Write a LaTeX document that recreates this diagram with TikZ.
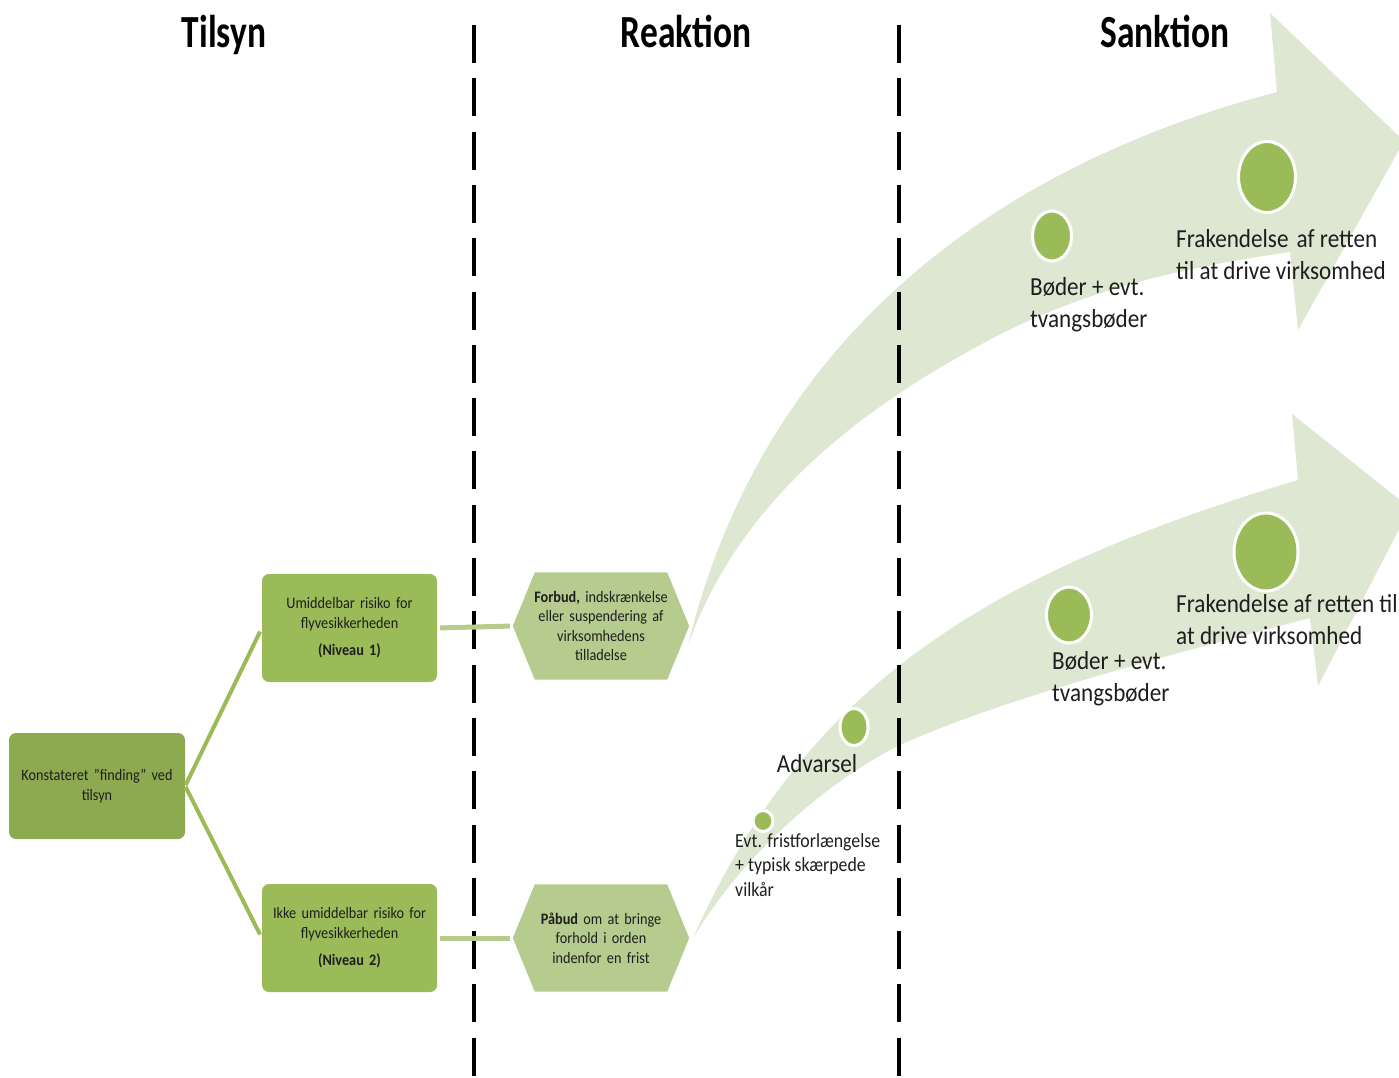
\documentclass[tikz,border=0pt]{standalone}
\usepackage{fontspec}
\setmainfont[FakeStretch=0.89]{Carlito}
\newfontfamily\titlefont[FakeStretch=0.77]{Carlito}
\usetikzlibrary{shapes.geometric,backgrounds}
\definecolor{boxgreen}{HTML}{9BBB59}
\definecolor{darkbox}{HTML}{8EAA50}
\definecolor{hexgreen}{HTML}{B6CB8E}
\definecolor{arrowgreen}{HTML}{DEE7D1}
\definecolor{txt}{HTML}{1E1E1E}
\begin{document}
\begin{tikzpicture}[x=1pt,y=-1pt,
  title/.style={font=\titlefont\fontsize{46}{52}\selectfont\bfseries, anchor=base, text=black, inner sep=0},
  gbox/.style={rectangle, rounded corners=7pt, fill=boxgreen, minimum width=175pt, minimum height=108pt,
     text width=165pt, align=center, font=\fontsize{16}{20}\selectfont, text=txt, inner sep=0},
  hexbox/.style={rectangle, minimum width=176pt, minimum height=107pt, text width=150pt, align=center,
     font=\fontsize{16}{19.5}\selectfont, text=txt, inner sep=0},
  lbl/.style={font=\fontsize{26}{32}\selectfont, text=txt, inner sep=0},
  small/.style={font=\fontsize{20}{24.5}\selectfont, text=txt, inner sep=0},
  dot/.style={ellipse, fill=boxgreen, draw=white, line width=3pt, inner sep=0},
  branch/.style={draw=boxgreen, line width=4pt},
  link/.style={draw=hexgreen, line width=5pt},
  divider/.style={line width=3.5pt, dash pattern=on 38pt off 15.3pt}
]
\useasboundingbox (0,0) rectangle (1399,1078);
\clip (0,0) rectangle (1399,1078);

% curved arrows (background)
\begin{scope}[on background layer]
\fill[arrowgreen] (688,645) .. controls (760,350) and (980,170) .. (1277,92)
   -- (1270,13) -- (1404,141) -- (1298,330) -- (1290,252)
   .. controls (1180,268) and (1080,290) .. (980,345)
   .. controls (860,410) and (740,500) .. (688,645) -- cycle;
\fill[arrowgreen] (693,938) .. controls (809,678) and (998,570) .. (1298,480)
   -- (1292,414) -- (1410,508) -- (1318,686) -- (1310,618)
   .. controls (1150,660) and (1000,700) .. (900,745)
   .. controls (820,785) and (740,860) .. (693,938) -- cycle;
\end{scope}

% dividers
\coordinate (d1t) at (474,25); \coordinate (d1b) at (474,1078);
\coordinate (d2t) at (899,25); \coordinate (d2b) at (899,1078);
\draw[divider] (d1t) -- (d1b);
\draw[divider] (d2t) -- (d2b);

% titles
\node[title] (tilsyn) at (224,48) {Tilsyn};
\node[title] (reaktion) at (686,48) {Reaktion};
\node[title] (sanktion) at (1165,48) {Sanktion};

% boxes
\node[gbox, fill=darkbox, minimum width=176pt, minimum height=106pt] (k) at (97,786)
  {Konstateret ”finding” ved\\tilsyn};
\node[gbox] (u1) at (349.5,628)
  {Umiddelbar risiko for\\flyvesikkerheden\\[7pt]\textbf{(Niveau 1)}};
\node[gbox] (u2) at (349.5,938)
  {Ikke umiddelbar risiko for\\flyvesikkerheden\\[7pt]\textbf{(Niveau 2)}};

\node[hexbox] (h1) at (601,626)
  {\textbf{Forbud,} indskrænkelse\\eller suspendering af\\virksomhedens\\tilladelse};
\node[hexbox] (h2) at (601,938)
  {\textbf{Påbud} om at bringe\\forhold i orden\\indenfor en frist};
\begin{scope}[on background layer]
\foreach \h in {h1,h2}{
\fill[hexgreen] (\h.west) -- ([xshift=22pt]\h.north west) -- ([xshift=-22pt]\h.north east)
   -- (\h.east) -- ([xshift=-22pt]\h.south east) -- ([xshift=22pt]\h.south west) -- cycle;
}
\end{scope}

% connectors
\draw[branch, shorten <=1pt, shorten >=4pt] (k.east) -- (u1.west);
\draw[branch, shorten <=1pt, shorten >=4pt] (k.east) -- (u2.west);
\draw[link, shorten <=3pt, shorten >=3pt] (u1.east) -- (h1.west);
\draw[link, shorten <=3pt, shorten >=3pt] (u2.east) -- (h2.west);

% dots
\node[dot, minimum width=39pt, minimum height=50pt] (c1) at (1052,236) {};
\node[dot, minimum width=57pt, minimum height=71pt] (c2) at (1267,177) {};
\node[dot, minimum width=45pt, minimum height=56pt] (c3) at (1069,615) {};
\node[dot, minimum width=64pt, minimum height=78pt] (c4) at (1266,552) {};
\node[dot, minimum width=28pt, minimum height=37pt] (c5) at (854,727) {};
\node[dot, minimum width=20pt, minimum height=21pt] (c6) at (763,821) {};

% labels
\node[lbl, anchor=base west] (t1) at (1030,295)
  {\begin{tabular}[t]{@{}l@{}}Bøder + evt.\\tvangsbøder\end{tabular}};
\node[lbl, anchor=base west] (t2) at (1176,247)
  {\begin{tabular}[t]{@{}l@{}}Frakendelse\hspace{3pt} af retten\\til at drive virksomhed\end{tabular}};
\node[lbl, anchor=base west] (t3) at (1176,612)
  {\begin{tabular}[t]{@{}l@{}}Frakendelse af retten til\\at drive virksomhed\end{tabular}};
\node[lbl, anchor=base west] (t4) at (1052,669)
  {\begin{tabular}[t]{@{}l@{}}Bøder + evt.\\tvangsbøder\end{tabular}};
\node[lbl, anchor=base] (t5) at (817,772) {Advarsel};
\node[small, anchor=base west] (t6) at (735,847)
  {\begin{tabular}[t]{@{}l@{}}Evt. fristforlængelse\\+ typisk skærpede\\vilkår\end{tabular}};
\end{tikzpicture}
\end{document}
